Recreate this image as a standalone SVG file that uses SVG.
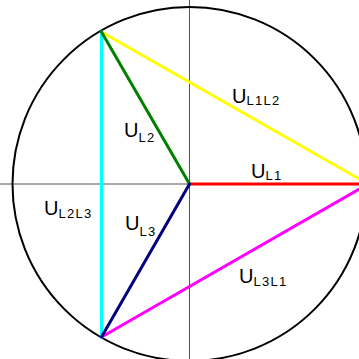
<svg xmlns="http://www.w3.org/2000/svg" width="359" height="359" viewBox="0 0 359 359">
<style>
.ax{stroke:#555;stroke-width:1;fill:none}
.ph{stroke-width:3;stroke-linecap:round;fill:none}
.lbl{font-family:"Liberation Sans",Arial,sans-serif;font-size:20px;fill:#000}
.sub{font-size:13px;letter-spacing:1.3px}
</style>
<rect width="359" height="359" fill="#fff"/>
<g id="axes">
<line class="ax" x1="0" y1="184" x2="359" y2="184"/>
<line class="ax" x1="189.5" y1="0" x2="189.5" y2="359"/>
</g>
<g id="circle">
<circle cx="189.5" cy="184" r="177" fill="none" stroke="#000" stroke-width="2"/>
</g>
<g id="connectors">
<line class="ph" stroke="#ffff00" x1="101.5" y1="32" x2="368" y2="184"/>
<line class="ph" stroke="#ff00ff" x1="101.5" y1="337" x2="368" y2="184"/>
<line class="ph" stroke="#00ffff" x1="101.5" y1="32" x2="101.5" y2="337"/>
<line class="ph" stroke="#ff0000" x1="189.5" y1="184" x2="368" y2="184"/>
<line class="ph" stroke="#008000" x1="189.5" y1="184" x2="101.5" y2="32"/>
<line class="ph" stroke="#000080" x1="189.5" y1="184" x2="101.5" y2="337"/>
</g>
<g id="label-UL1L2"><text class="lbl" x="232" y="102.5">U<tspan class="sub" dy="2">L1L2</tspan></text></g>
<g id="label-UL1"><text class="lbl" x="251" y="178">U<tspan class="sub" dy="2">L1</tspan></text></g>
<g id="label-UL2"><text class="lbl" x="124" y="136.5">U<tspan class="sub" dy="5">L2</tspan></text></g>
<g id="label-UL3"><text class="lbl" x="125" y="230">U<tspan class="sub" dy="6">L3</tspan></text></g>
<g id="label-UL2L3"><text class="lbl" x="44" y="215">U<tspan class="sub" dy="2.5">L2L3</tspan></text></g>
<g id="label-UL3L1"><text class="lbl" x="239" y="283">U<tspan class="sub" dy="3">L3L1</tspan></text></g>
</svg>
